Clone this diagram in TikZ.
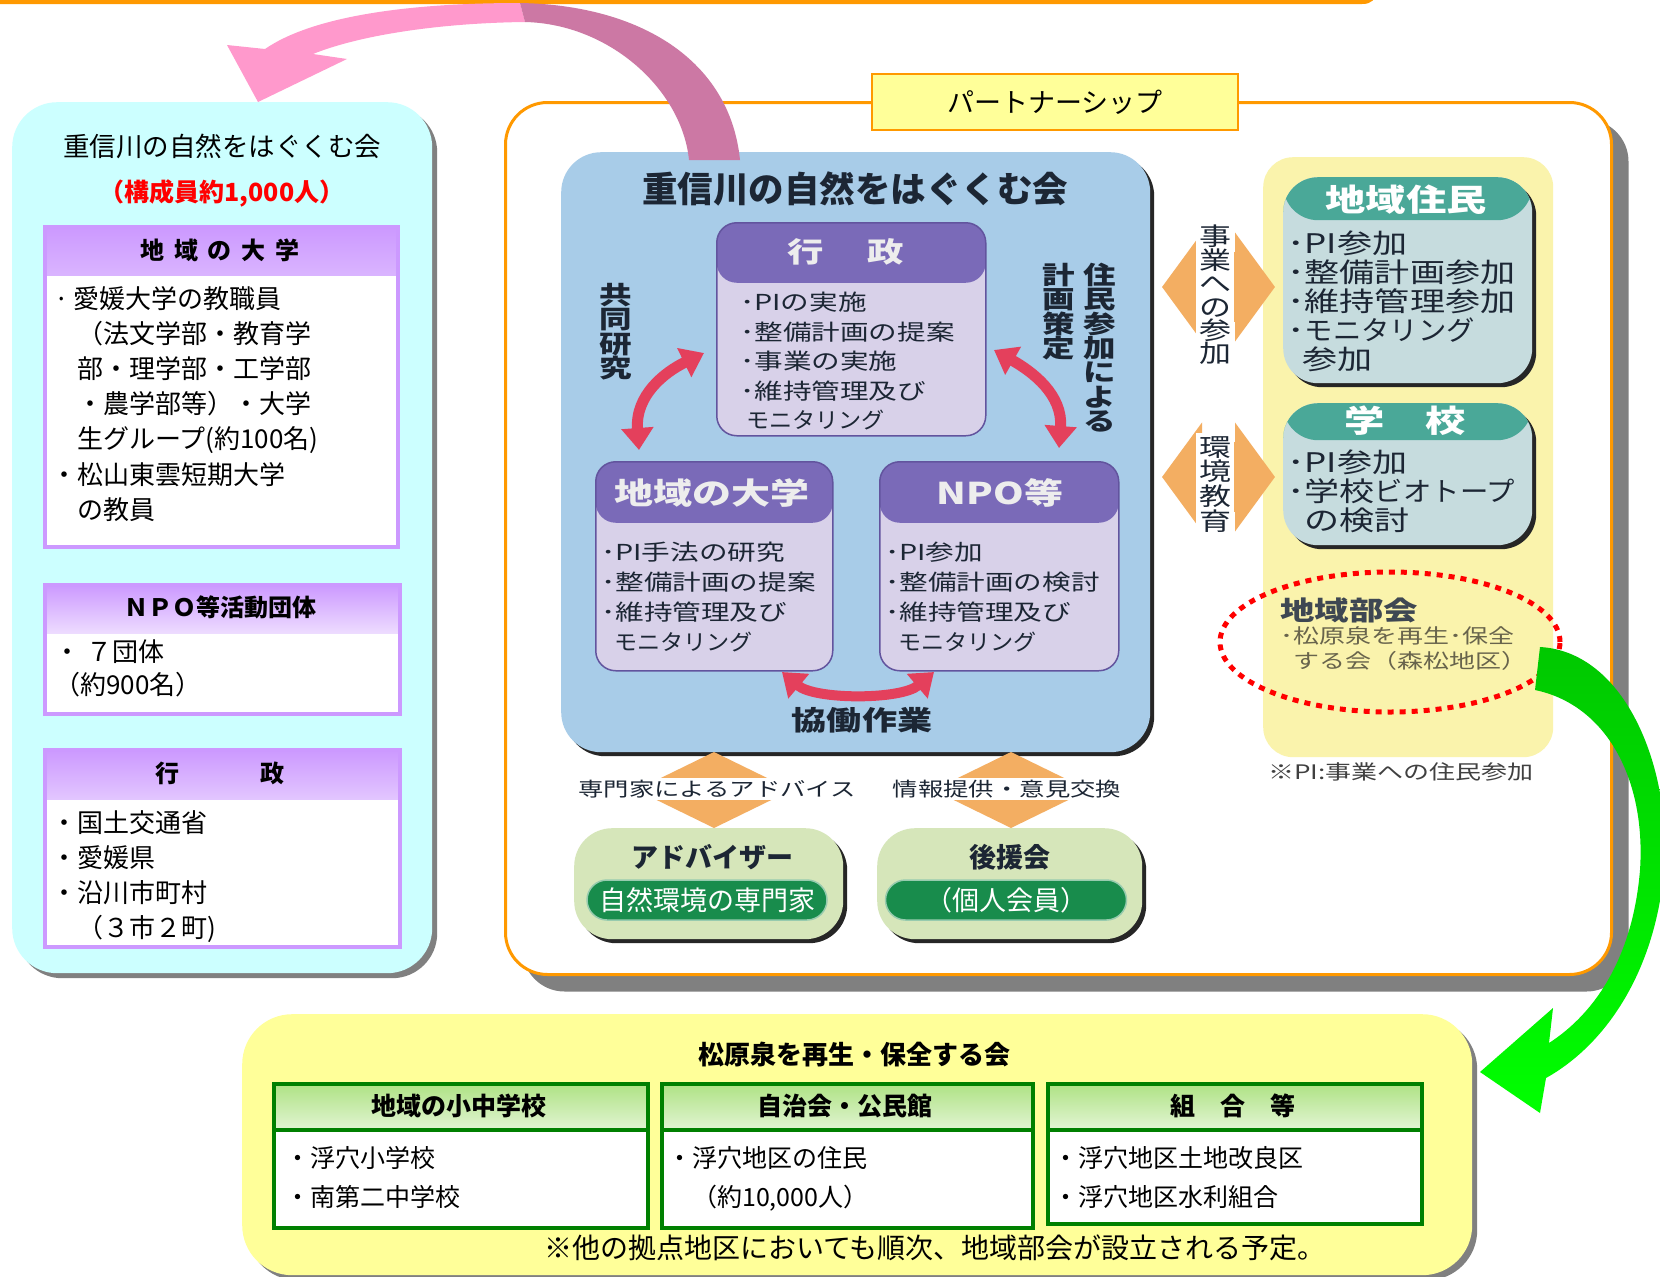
\documentclass[tikz,border=0pt]{standalone}
\usepackage{fontspec}
\setmainfont{Noto Sans CJK JP}
\newfontfamily\jpw[FakeStretch=1.3]{Noto Sans CJK JP}
\newfontfamily\jpk[FakeStretch=1.05]{Noto Sans CJK JP}
\usetikzlibrary{arrows.meta,shapes,shadows,positioning}
\newcommand{\tightlines}{\lineskiplimit=-100pt\relax}

\definecolor{bandorange}{RGB}{255,153,0}
\definecolor{shadowgray}{RGB}{128,128,128}
\definecolor{leftcyan}{RGB}{204,255,255}
\definecolor{lilac}{RGB}{204,153,255}
\definecolor{tagyellow}{RGB}{255,255,153}
\definecolor{riverblue}{RGB}{168,204,232}
\definecolor{violethead}{RGB}{122,106,184}
\definecolor{violetbody}{RGB}{216,209,233}
\definecolor{violetline}{RGB}{98,84,158}
\definecolor{tealhead}{RGB}{74,168,152}
\definecolor{tealbody}{RGB}{198,220,222}
\definecolor{columnyellow}{RGB}{250,243,172}
\definecolor{arrowred}{RGB}{228,64,92}
\definecolor{arroworange}{RGB}{243,174,98}
\definecolor{sagegreen}{RGB}{214,230,186}
\definecolor{pillgreen}{RGB}{24,140,76}
\definecolor{boxgreen}{RGB}{0,128,0}
\definecolor{headgreen}{RGB}{140,214,80}
\definecolor{pinkarrow}{RGB}{255,153,204}
\definecolor{mauvearrow}{RGB}{204,120,164}
\definecolor{greentop}{RGB}{0,200,0}
\definecolor{greenlow}{RGB}{0,255,0}
\definecolor{inkdark}{RGB}{28,38,52}
\definecolor{inkolive}{RGB}{104,100,76}

\begin{document}
\begin{tikzpicture}[x=1pt,y=-1pt,
    lpanel/.style={anchor=north west,fill=leftcyan,rounded corners=45pt,
      drop shadow={shadow xshift=5pt,shadow yshift=-5pt,fill=shadowgray,opacity=1}},
    lbox/.style={anchor=north west,draw=lilac,line width=4pt,fill=white,
      path picture={\shade[top color=lilac,bottom color=lilac,middle color=lilac!12]
        (path picture bounding box.north west) rectangle ([yshift=-#1]path picture bounding box.north east);}},
    lhead/.style={font=\bfseries\fontsize{24}{24}\selectfont},
    lbody/.style={anchor=north west,align=left,font=\fontsize{26}{35.2}\selectfont\tightlines},
    opanel/.style={anchor=north west,draw=bandorange,line width=3pt,fill=white,rounded corners=42pt,
      drop shadow={shadow xshift=17pt,shadow yshift=-17pt,fill=shadowgray,opacity=1}},
    tagbox/.style={draw=bandorange,line width=2pt,fill=tagyellow,font=\fontsize{27}{27}\selectfont},
    bluepanel/.style={anchor=north west,fill=riverblue,rounded corners=40pt,
      drop shadow={shadow xshift=4pt,shadow yshift=-4pt,fill=black!85,opacity=1}},
    vbox/.style={anchor=north west,draw=violetline,line width=1.5pt,fill=violetbody,rounded corners=20pt,
      path picture={\fill[violethead] (path picture bounding box.north west) rectangle ([yshift=-#1]path picture bounding box.north east);}},
    vhead/.style={text=white!93!black,font=\jpw\bfseries\fontsize{30}{30}\selectfont},
    vbody/.style={anchor=north west,align=left,text=inkdark,font=\jpw\fontsize{22}{29.5}\selectfont\tightlines},
    vtext/.style={anchor=north,align=center,text=inkdark,font=\jpw\bfseries\fontsize{25}{24.3}\selectfont\tightlines},
    redarrow/.style={draw=arrowred,line width=11pt,{Triangle[width=31pt,length=22pt]}-{Triangle[width=31pt,length=22pt]}},
    vorange/.style={draw=arroworange,line width=92pt,{Triangle[width=146pt,length=36pt]}-{Triangle[width=146pt,length=36pt]}},
    horange/.style={draw=arroworange,line width=70pt,{Triangle[width=107pt,length=40pt]}-{Triangle[width=107pt,length=40pt]}},
    olabel/.style={fill=white,inner sep=2pt,text=inkdark,font=\jpw\fontsize{19.5}{20}\selectfont},
    sidelabel/.style={anchor=north,align=center,fill=white,inner sep=3pt,text=inkdark,font=\jpw\fontsize{24.6}{23.4}\selectfont\tightlines},
    sagebox/.style={anchor=north west,fill=sagegreen,rounded corners=38pt,
      drop shadow={shadow xshift=4pt,shadow yshift=-4pt,fill=black!85,opacity=1}},
    pill/.style={fill=pillgreen,draw=white!55!pillgreen,line width=1.5pt,rounded corners=20pt,text=white,font=\fontsize{27}{27}\selectfont},
    ycolumn/.style={anchor=north west,fill=columnyellow,rounded corners=30pt},
    tbox/.style={anchor=north west,fill=tealbody,rounded corners=35pt,
      drop shadow={shadow xshift=4pt,shadow yshift=-4pt,fill=black!85,opacity=1},
      path picture={\fill[tealhead] (path picture bounding box.north west) rectangle ([yshift=-#1]path picture bounding box.north east);}},
    thead/.style={text=white,font=\jpw\bfseries\fontsize{31}{31}\selectfont},
    tbody/.style={anchor=north west,align=left,text=inkdark,font=\jpw\fontsize{27}{29}\selectfont\tightlines},
    bukai/.style={ellipse,draw=red,line width=5pt,dash pattern=on 6pt off 6pt},
    bpanel/.style={anchor=north west,fill=tagyellow,rounded corners=50pt,
      drop shadow={shadow xshift=5pt,shadow yshift=-5pt,fill=shadowgray,opacity=1}},
    gbox/.style={anchor=north west,draw=boxgreen,line width=4pt,fill=white,
      path picture={\shade[top color=headgreen!70,bottom color=headgreen,middle color=white]
        (path picture bounding box.north west) rectangle ([yshift=-#1]path picture bounding box.north east);
        \draw[boxgreen,line width=4pt] ([yshift=-#1]path picture bounding box.north west) -- ([yshift=-#1]path picture bounding box.north east);}},
    ghead/.style={font=\bfseries\fontsize{25}{25}\selectfont},
    gbody/.style={anchor=north west,align=left,font=\fontsize{25}{39}\selectfont\tightlines}
  ]
  \tikzstyle{every node}+=[inner sep=0pt]
  \useasboundingbox (0,0) rectangle (1660,1277);
  \clip (0,0) rectangle (1660,1277);
  \fill[white] (0,0) rectangle (1660,1277);
  % band left over from the box above
  \draw[bandorange,line width=4pt] (-10,2) -- (1362,2) .. controls (1371,2) and (1374,-2) .. (1374,-10);

  % left panel: members
  \node[lpanel,minimum width=420pt,minimum height=871pt] (leftpanel) at (12,102) {};
  \node[font=\fontsize{26.5}{30}\selectfont] (lefttitle) at (222,146) {重信川の自然をはぐくむ会};
  \node[font=\bfseries\fontsize{25}{30}\selectfont,text=red] (leftcount) at (222,193) {（構成員約1,000人）};

  \node[lbox=48pt,minimum width=353pt,minimum height=320pt] (univ) at (43,225) {};
  \node[lhead] (univhead) at (220,250) {地\hspace{0.4em}域\hspace{0.4em}の\hspace{0.4em}大\hspace{0.4em}学};
  \node[lbody] (univtext) at (51,286) {\hspace*{3pt}·\hspace*{5pt}愛媛大学の教職員\\
    \hspace*{1em}（法文学部・教育学\\
    \hspace*{1em}部・理学部・工学部\\
    \hspace*{1em}・農学部等）・大学\\
    \hspace*{1em}生グループ(約100名)\\
    ・松山東雲短期大学\\
    \hspace*{1em}の教員};

  \node[lbox=48pt,minimum width=355pt,minimum height=129pt] (npo) at (43,583) {};
  \node[lhead] (npohead) at (220,607) {ＮＰＯ等活動団体};
  \node[lbody,font=\fontsize{26}{33}\selectfont\tightlines] (npotext) at (54,640) {・ ７団体\\（約900名）};

  \node[lbox=49pt,minimum width=355pt,minimum height=197pt] (gov) at (43,748) {};
  \node[lhead] (govhead) at (220,773) {行\hspace{3.4em}政};
  \node[lbody,font=\fontsize{26}{35.3}\selectfont\tightlines] (govtext) at (51,810) {・国土交通省\\・愛媛県\\・沿川市町村\\\hspace*{1em}（３市２町)};

  % partnership panel
  \node[opanel,minimum width=1106pt,minimum height=872pt] (partner) at (504,101) {};
  \node[tagbox,minimum width=366pt,minimum height=56pt] (ptag) at (1055,102) {パートナーシップ};

  % the association
  \node[bluepanel,minimum width=589pt,minimum height=600pt] (kai) at (561,152) {};
  \node[text=inkdark,font=\bfseries\fontsize{35.5}{36}\selectfont] (kaititle) at (855,189) {重信川の自然をはぐくむ会};

  \node[vbox=60pt,minimum width=269pt,minimum height=213pt] (gyosei) at (716,222) {};
  \node[vhead,font=\jpw\bfseries\fontsize{28}{28}\selectfont] (gyoseihead) at (846,252) {行\hspace{44pt}政};
  \node[vbody] (gyoseitext) at (740,292) {･PIの実施\\･整備計画の提案\\･事業の実施\\･維持管理及び\\\hspace*{6pt}{\jpk モニタリング}};

  \node[vbox=61pt,minimum width=237pt,minimum height=209pt] (daigaku) at (595,461) {};
  \node[vhead] (daigakuhead) at (712,493) {地域の大学};
  \node[vbody,font=\jpw\fontsize{22}{30}\selectfont\tightlines] (daigakutext) at (601,542) {･PI手法の研究\\･整備計画の提案\\･維持管理及び\\\hspace*{13pt}{\jpk モニタリング}};

  \node[vbox=61pt,minimum width=239pt,minimum height=209pt] (npoeq) at (879,461) {};
  \node[vhead] (npoeqhead) at (1000,493) {NPO等};
  \node[vbody,font=\jpw\fontsize{22}{30}\selectfont\tightlines] (npoeqtext) at (885,542) {･PI参加\\･整備計画の検討\\･維持管理及び\\\hspace*{13pt}{\jpk モニタリング}};

  \coordinate (kl1) at (639,450);
  \coordinate (kl2) at (704,353);
  \coordinate (kr1) at (1059,448);
  \coordinate (kr2) at (994,350);
  \coordinate (kb1) at (782,672);
  \coordinate (kb2) at (934,672);
  \draw[redarrow] (kl1) .. controls (635,395) and (665,372) .. (kl2);
  \draw[redarrow] (kr1) .. controls (1063,395) and (1033,372) .. (kr2);
  \draw[redarrow,line width=10pt] (kb1) .. controls (815,700) and (901,700) .. (kb2);
  \node[vtext] (kyodo) at (616,283) {共\\同\\研\\究};
  \node[vtext] (jumin) at (1100,263) {住\\民\\参\\加\\に\\よ\\る};
  \node[vtext] (keikaku) at (1059,263) {計\\画\\策\\定};
  \node[text=inkdark,font=\jpw\bfseries\fontsize{27}{27}\selectfont] (kyodosagyo) at (862,720) {協働作業};

  % supporters
  \node[sagebox,minimum width=269pt,minimum height=111pt] (adv) at (574,828) {};
  \node[text=inkdark,font=\bfseries\fontsize{27}{27}\selectfont] (advtitle) at (712,857) {アドバイザー};
  \node[pill,minimum width=240pt,minimum height=40pt] (advpill) at (707,900) {自然環境の専門家};
  \node[sagebox,minimum width=265pt,minimum height=111pt] (koen) at (877,828) {};
  \node[text=inkdark,font=\bfseries\fontsize{27}{27}\selectfont] (koentitle) at (1010,857) {後援会};
  \node[pill,minimum width=241pt,minimum height=40pt] (koenpill) at (1006,900) {（個人会員）};

  \coordinate (oa1) at (714,752);
  \coordinate (ob1) at (1011,752);
  \draw[vorange] (oa1) -- (oa1 |- adv.north);
  \draw[vorange] (ob1) -- (ob1 |- koen.north);
  \node[olabel] (advice) at (717,789) {専門家によるアドバイス};
  \node[olabel] (info) at (1007,789) {情報提供・意見交換};

  % residents and schools
  \node[ycolumn,minimum width=290pt,minimum height=600pt] (ycol) at (1263,157) {};
  \coordinate (ha1) at (1162,287);
  \coordinate (ha2) at (1275,287);
  \coordinate (hb1) at (1162,477);
  \coordinate (hb2) at (1275,477);
  \draw[horange] (ha1) -- (ha2);
  \draw[horange] (hb1) -- (hb2);
  \node[sidelabel] (jigyo) at (1215,222) {事\\業\\へ\\の\\参\\加};
  \node[sidelabel,font=\jpw\fontsize{24.6}{24.7}\selectfont\tightlines] (kankyo) at (1215,433) {環\\境\\教\\育};

  \node[tbox=43pt,minimum width=249pt,minimum height=206pt] (jumin2) at (1283,177) {};
  \node[thead] (juminhead) at (1406,200) {地域住民};
  \node[tbody] (junintext) at (1287,231) {･PI参加\\･整備計画参加\\･維持管理参加\\･{\jpk モニタリング}\\\hspace*{15pt}参加};

  \node[tbox=37pt,minimum width=249pt,minimum height=142pt] (gakko) at (1283,403) {};
  \node[thead] (gakkohead) at (1405,421) {学\hspace{41pt}校};
  \node[tbody] (gakkotext) at (1287,450) {･PI参加\\･学校{\jpk ビオトープ}\\\hspace*{17pt}の検討};

  \node[bukai,minimum width=340pt,minimum height=140pt] (bukai) at (1390,642) {};
  \node[anchor=west,text=inkdark!85,font=\jpw\bfseries\fontsize{26.5}{26.5}\selectfont] (bukaititle) at (1280,610) {地域部会};
  \node[anchor=north west,align=left,text=inkolive,font=\jpw\fontsize{20}{25}\selectfont\tightlines] (bukaitext) at (1280,626) {･松原泉を再生･保全\\\hspace*{13pt}する会（森松地区）};
  \node[anchor=west,text=black!75,font=\jpw\fontsize{20}{20}\selectfont] (pinote) at (1268,772) {※PI:事業への住民参加};

  % local branch
  \node[bpanel,minimum width=1230pt,minimum height=261pt] (branch) at (242,1014) {};
  \node[font=\bfseries\fontsize{26}{26}\selectfont] (branchtitle) at (854,1055) {松原泉を再生・保全する会};
  \node[gbox=46pt,minimum width=374pt,minimum height=144pt] (school) at (272,1082) {};
  \node[ghead] (schoolhead) at (459,1106) {地域の小中学校};
  \node[gbody] (schooltext) at (285,1146) {・浮穴小学校\\・南第二中学校};
  \node[gbox=46pt,minimum width=371pt,minimum height=144pt] (hall) at (660,1082) {};
  \node[ghead] (hallhead) at (845,1106) {自治会・公民館};
  \node[gbody] (halltext) at (667,1146) {・浮穴地区の住民\\\hspace*{1em}（約10,000人）};
  \node[gbox=46pt,minimum width=374pt,minimum height=140pt] (union) at (1046,1082) {};
  \node[ghead] (unionhead) at (1233,1106) {組\hspace{1em}合\hspace{1em}等};
  \node[gbody] (uniontext) at (1053,1146) {・浮穴地区土地改良区\\・浮穴地区水利組合};
  \node[font=\fontsize{28}{28}\selectfont] (branchnote) at (935,1248) {※他の拠点地区においても順次、地域部会が設立される予定。};

  % big curved arrows
  \fill[pinkarrow] (520,3) .. controls (400,3) and (310,18) .. (265,49) -- (227,45) -- (258,102) -- (347,59) -- (313,54)
    .. controls (360,35) and (440,23) .. (525,22) -- cycle;
  \fill[mauvearrow] (520,3) .. controls (640,5) and (730,60) .. (740,160) -- (689,160)
    .. controls (682,90) and (610,24) .. (525,22) -- cycle;
  \shade[top color=greentop,bottom color=greenlow] (1540,647) .. controls (1630,652) and (1675,780) .. (1663,880)
    .. controls (1652,975) and (1605,1045) .. (1546,1078) -- (1540,1113) -- (1480,1072) -- (1553,1008) -- (1549,1043)
    .. controls (1597,1012) and (1633,955) .. (1640,870) .. controls (1646,780) and (1607,705) .. (1535,690) -- cycle;
\end{tikzpicture}
\end{document}
